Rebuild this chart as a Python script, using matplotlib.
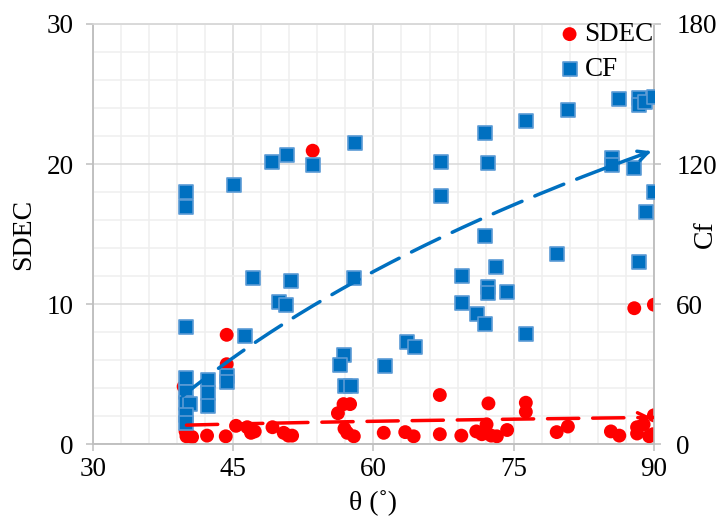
import numpy as np
import matplotlib
matplotlib.use("Agg")
import matplotlib.pyplot as plt
from matplotlib.ticker import MultipleLocator

plt.rcParams["font.family"] = ["Liberation Serif", "DejaVu Serif"]

# SDEC points (theta in degrees, SDEC)
sdec_theta = [39.7, 39.9, 40.0, 40.2, 40.6, 42.2, 44.2, 44.3, 44.3, 45.3,
              46.5, 46.9, 47.3, 49.2, 50.4, 50.9, 51.3, 53.5, 56.2, 56.8,
              57.5, 56.9, 57.2, 57.9, 61.1, 63.4, 64.3, 67.1, 67.1, 69.4,
              71.0, 71.6, 72.1, 72.3, 72.6, 73.2, 74.3, 76.3, 76.3, 79.6,
              80.8, 85.4, 86.3, 87.9, 88.2, 88.2, 88.9, 89.5, 89.9, 90.0,
              90.0]
sdec_vals = [4.1, 0.9, 0.55, 0.6, 0.5, 0.6, 0.55, 7.8, 5.7, 1.3,
             1.2, 0.8, 0.9, 1.2, 0.8, 0.6, 0.6, 20.95, 2.2, 2.85,
             2.85, 1.1, 0.8, 0.55, 0.8, 0.85, 0.55, 3.5, 0.7, 0.6,
             0.9, 0.7, 1.4, 2.9, 0.6, 0.55, 1.0, 2.95, 2.3, 0.85,
             1.25, 0.9, 0.6, 9.7, 0.75, 1.2, 1.4, 0.55, 0.7, 9.95,
             2.05]

# CF points (theta in degrees, Cf)
cf_theta = [39.9, 39.9, 45.1, 49.1, 50.8, 53.5, 58.0, 67.2, 67.2, 71.9,
            72.3, 76.3, 80.8, 86.3, 88.4, 88.4, 89.1, 90.0, 85.5, 85.5,
            87.9, 90.0, 89.2, 79.6, 88.4, 76.3, 71.9, 73.1, 69.5, 72.3,
            72.3, 74.3, 69.5, 71.1, 71.9, 63.6, 64.4, 61.2, 56.8, 56.4,
            57.0, 57.6, 57.9, 51.2, 49.9, 50.6, 47.1, 46.3, 39.9, 39.9,
            42.3, 42.3, 42.3, 44.3, 44.3, 39.9, 39.9, 40.4, 39.9, 39.9]
cf_vals = [108.1, 101.7, 111.0, 120.7, 123.9, 119.6, 128.9, 120.7, 106.4, 133.2,
           120.6, 138.4, 143.2, 147.7, 148.1, 145.3, 146.7, 148.9, 122.4, 119.6,
           118.1, 107.9, 99.6, 81.4, 78.1, 47.1, 89.3, 76.0, 72.1, 67.4,
           64.6, 65.0, 60.3, 55.7, 51.4, 43.9, 41.4, 33.4, 38.1, 33.9,
           24.9, 24.9, 71.0, 70.0, 60.7, 59.6, 71.3, 46.4, 50.0, 28.2,
           27.4, 21.7, 16.3, 29.1, 26.4, 22.4, 17.4, 17.3, 12.4, 8.9]

# logarithmic trend lines: y = a + b * ln(theta)
sdec_trend = (-1.151, 0.678)
cf_trend = (-451.0, 128.2)
sdec_trend_range = (40.0, 90.0)
cf_trend_range = (39.6, 90.0)

RED = "#FF0000"
BLUE = "#0070C0"
EDGE = "#5B9BD5"
AXIS_GRAY = "#bfbfbf"

fig = plt.figure(figsize=(7.17, 5.16), dpi=100)
ax = fig.add_axes([0.1297, 0.1395, 0.7823, 0.814])
ax2 = ax.twinx()

ax.set_xlim(30, 90)
ax.set_ylim(0, 30)
ax2.set_ylim(0, 180)
ax.xaxis.set_major_locator(MultipleLocator(15))
ax.xaxis.set_minor_locator(MultipleLocator(3))
ax.yaxis.set_major_locator(MultipleLocator(10))
ax.yaxis.set_minor_locator(MultipleLocator(2))
ax2.yaxis.set_major_locator(MultipleLocator(60))

ax.grid(which="major", color="#d9d9d9", linewidth=1.1)
ax.grid(which="minor", color="#efefef", linewidth=1.1)
ax.set_axisbelow(True)

for a in (ax, ax2):
    for side in ("left", "right", "bottom"):
        a.spines[side].set_color(AXIS_GRAY)
        a.spines[side].set_linewidth(1.1)
    a.spines["top"].set_color("#d9d9d9")
    a.spines["top"].set_linewidth(1.1)

ax.tick_params(axis="x", which="major", direction="out", length=5,
               color=AXIS_GRAY, width=1.1, labelsize=19.5, pad=4)
ax.tick_params(axis="x", which="minor", length=0)
ax.tick_params(axis="y", which="major", direction="out", length=5,
               color=AXIS_GRAY, width=1.1, labelsize=19.5, pad=9)
ax.tick_params(axis="y", which="minor", length=0)
ax2.tick_params(axis="y", which="major", direction="out", length=5,
                color=AXIS_GRAY, width=1.1, labelsize=19.5, pad=11)

ax.scatter(sdec_theta, sdec_vals, s=100, color=RED, edgecolors="none",
           zorder=3, label="SDEC")
ax2.scatter(cf_theta, cf_vals, s=90, marker="s", color=BLUE,
            edgecolors=EDGE, linewidths=1.2, zorder=3, label="CF")


def draw_trend(coef, xr, color, transform):
    xs = np.linspace(xr[0], xr[1], 200)
    ys = coef[0] + coef[1] * np.log(xs)
    ax2.plot(xs, ys, color=color, linewidth=2.5, dashes=(9, 4),
             dash_capstyle="round", transform=transform, zorder=4)
    ax2.annotate("", xy=(xs[-1], ys[-1]), xytext=(xs[-8], ys[-8]),
                 xycoords=transform, textcoords=transform,
                 arrowprops=dict(arrowstyle="->,head_length=0.7,head_width=0.35",
                                 color=color, lw=2.5), zorder=4)


draw_trend(sdec_trend, sdec_trend_range, RED, ax.transData)
draw_trend(cf_trend, cf_trend_range, BLUE, ax2.transData)

ax.set_xlabel("θ (˚)", fontsize=20)
ax.xaxis.set_label_coords(0.5, -0.11)
ax.set_ylabel("SDEC", fontsize=20)
ax.yaxis.set_label_coords(-0.102, 0.5)
ax2.set_ylabel("Cf", fontsize=20, rotation=90)
ax2.yaxis.set_label_coords(1.07, 0.5)

h1, l1 = ax.get_legend_handles_labels()
h2, l2 = ax2.get_legend_handles_labels()
ax2.legend(h1 + h2, l1 + l2, loc="upper right", bbox_to_anchor=(1.019, 1.03),
           frameon=False, fontsize=19.5, handletextpad=0.05, handlelength=1.0,
           labelspacing=0.35, borderaxespad=0.0, markerscale=1.0)

fig.savefig("out.png", dpi=100)
